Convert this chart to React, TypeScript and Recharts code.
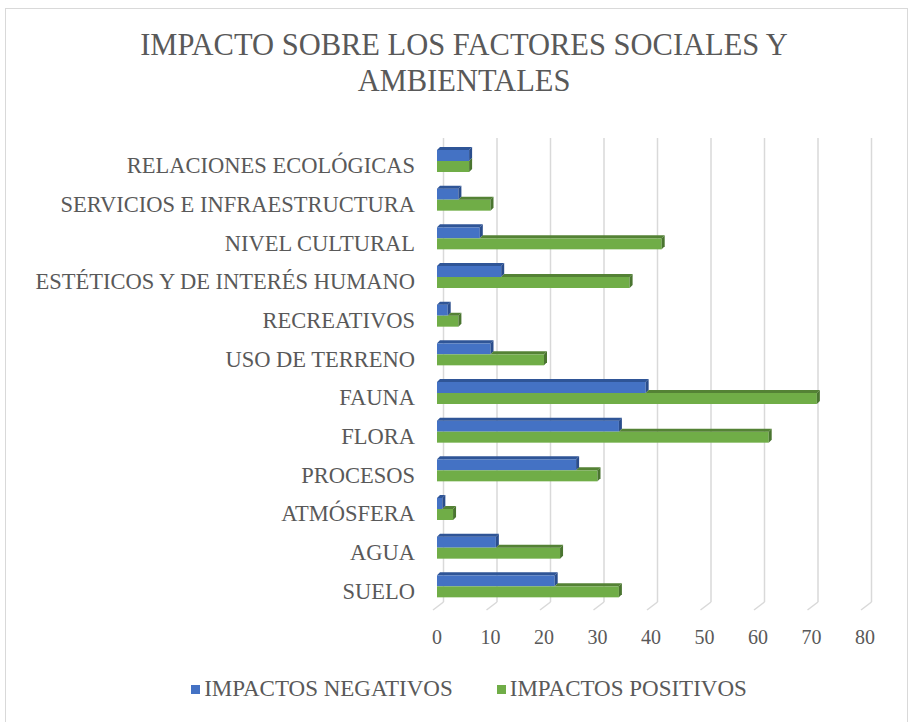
import { BarChart, Bar, XAxis, YAxis, CartesianGrid, Legend } from "recharts";

const categories = [
  "RELACIONES ECOLÓGICAS",
  "SERVICIOS E INFRAESTRUCTURA",
  "NIVEL CULTURAL",
  "ESTÉTICOS Y DE INTERÉS HUMANO",
  "RECREATIVOS",
  "USO DE TERRENO",
  "FAUNA",
  "FLORA",
  "PROCESOS",
  "ATMÓSFERA",
  "AGUA",
  "SUELO",
];
const negativos = [6, 4, 8, 12, 2, 10, 39, 34, 26, 1, 11, 22];
const positivos = [6, 10, 42, 36, 4, 20, 71, 62, 30, 3, 23, 34];
const xTicks = [0, 10, 20, 30, 40, 50, 60, 70, 80];

const FONT = "'Liberation Serif', 'Times New Roman', serif";
const TEXT = "#595959";
const DEPTH = 3;

const data = categories.map((name, i) => ({
  name,
  neg: negativos[i],
  pos: positivos[i],
}));

// front face + top strip + right end, to fake the excel 3d look
const Bar3D = (props: any) => {
  const { x, y, width, height, face, top, side, hidden } = props;
  if (!width || width <= 0) return null;
  const topStart = x + Math.min(width, hidden || 0);
  return (
    <g>
      <rect x={x} y={y} width={width} height={height} fill={face} />
      {topStart < x + width && (
        <polygon
          points={`${topStart},${y} ${topStart + DEPTH},${y - DEPTH} ${x + width + DEPTH},${y - DEPTH} ${x + width},${y}`}
          fill={top}
        />
      )}
      <polygon
        points={`${x + width},${y} ${x + width + DEPTH},${y - DEPTH} ${x + width + DEPTH},${y + height - DEPTH} ${x + width},${y + height}`}
        fill={side}
      />
    </g>
  );
};

const gridLine = (props: any) => {
  const { x1, y1, y2, key } = props;
  const bx = x1 + 6.5;
  return (
    <g key={key}>
      <line x1={bx} y1={y1 - 4} x2={bx} y2={y2 - 4} stroke="#d9d9d9" strokeWidth={1.5} />
      <line x1={bx} y1={y2 - 4} x2={x1 - 4} y2={y2 + 4} stroke="#d9d9d9" strokeWidth={1.5} />
    </g>
  );
};

const LegendContent = () => (
  <div
    style={{
      display: "flex",
      justifyContent: "center",
      gap: 44,
      fontFamily: FONT,
      fontSize: 23,
      color: TEXT,
    }}
  >
    <span style={{ display: "flex", alignItems: "center" }}>
      <span style={{ width: 9, height: 9, background: "#4472C4", marginRight: 4 }} />
      IMPACTOS NEGATIVOS
    </span>
    <span style={{ display: "flex", alignItems: "center" }}>
      <span style={{ width: 9, height: 9, background: "#70AD47", marginRight: 4 }} />
      IMPACTOS POSITIVOS
    </span>
  </div>
);

export default function App() {
  return (
    <div
      style={{
        position: "absolute",
        left: 0,
        top: 0,
        width: 908,
        height: 722,
        overflow: "hidden",
        background: "#fff",
      }}
    >
      <div
        style={{
          position: "absolute",
          left: 5,
          top: 8,
          width: 903,
          height: 730,
          border: "1px solid #d9d9d9",
          boxSizing: "border-box",
        }}
      />
      <div
        style={{
          position: "absolute",
          left: 10,
          top: 27,
          width: 908,
          textAlign: "center",
          fontFamily: FONT,
          fontSize: 30.5,
          lineHeight: "36px",
          color: TEXT,
        }}
      >
        IMPACTO SOBRE LOS FACTORES SOCIALES Y
        <br />
        AMBIENTALES
      </div>
      <div style={{ position: "absolute", left: 0, top: 0 }}>
        <BarChart
          layout="vertical"
          width={908}
          height={722}
          data={data}
          margin={{ top: 142, right: 43, bottom: 86, left: 0 }}
          barGap={0}
          barSize={11}
        >
          <CartesianGrid horizontal={false} vertical={gridLine} />
          <XAxis
            type="number"
            domain={[0, 80]}
            ticks={xTicks}
            height={30}
            axisLine={false}
            tickLine={false}
            tickSize={0}
            tickMargin={24}
            tick={{ fill: TEXT, fontSize: 20, fontFamily: FONT }}
          />
          <YAxis
            type="category"
            dataKey="name"
            width={437}
            axisLine={false}
            tickLine={false}
            tickSize={0}
            tickMargin={22}
            interval={0}
            tick={{ fill: TEXT, fontSize: 22.5, fontFamily: FONT, dy: 4 }}
          />
          <Bar
            dataKey="neg"
            name="IMPACTOS NEGATIVOS"
            fill="#4472C4"
            isAnimationActive={false}
            shape={(p: any) => (
              <Bar3D {...p} face="#4472C4" top="#2F5597" side="#2A4D8C" hidden={0} />
            )}
          />
          <Bar
            dataKey="pos"
            name="IMPACTOS POSITIVOS"
            fill="#70AD47"
            isAnimationActive={false}
            shape={(p: any) => (
              <Bar3D
                {...p}
                face="#70AD47"
                top="#548235"
                side="#4A7530"
                hidden={p.payload && p.payload.pos ? (p.width / p.payload.pos) * p.payload.neg : 0}
              />
            )}
          />
          <Legend
            layout="horizontal"
            verticalAlign="middle"
            align="center"
            wrapperStyle={{ position: "absolute", top: 676, left: 15, width: 908 }}
            content={LegendContent}
          />
        </BarChart>
      </div>
    </div>
  );
}
